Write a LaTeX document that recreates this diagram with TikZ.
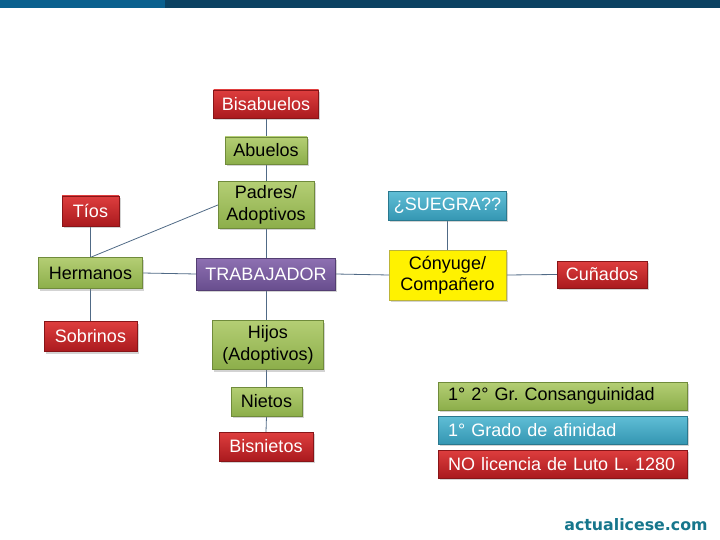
\documentclass[tikz,border=0pt]{standalone}
\usepackage{fontspec}
\setmainfont{Liberation Sans}
\newfontfamily\logofont{DejaVu Sans}
\usetikzlibrary{shadows,backgrounds}
\frenchspacing
\definecolor{barA}{RGB}{10,96,142}
\definecolor{barB}{RGB}{11,66,98}
\definecolor{redT}{RGB}{222,62,62}
\definecolor{redB}{RGB}{170,26,30}
\definecolor{grnT}{RGB}{180,206,116}
\definecolor{grnB}{RGB}{140,174,74}
\definecolor{purT}{RGB}{142,112,178}
\definecolor{purB}{RGB}{104,78,142}
\definecolor{bluT}{RGB}{96,190,214}
\definecolor{bluB}{RGB}{52,150,178}
\definecolor{linkc}{RGB}{80,106,134}
\definecolor{logoc}{RGB}{22,118,140}
\tikzset{
  box/.style={inner sep=2pt, align=center, font=\fontsize{18}{21.5}\selectfont,
    drop shadow={opacity=0.35, shadow xshift=1.5pt, shadow yshift=-2pt}},
  redbox/.style={box, top color=redT, bottom color=redB, text=white, draw=redB!80!black, line width=0.3pt},
  grnbox/.style={box, top color=grnT, bottom color=grnB, text=black, draw=grnB!80!black, line width=0.3pt},
  purbox/.style={box, top color=purT, bottom color=purB, text=white, draw=purB!80!black, line width=0.3pt},
  blubox/.style={box, top color=bluT, bottom color=bluB, text=white, draw=bluB!80!black, line width=0.3pt},
  yelbox/.style={box, fill=yellow, text=black, draw=yellow!70!black, line width=0.3pt},
  legend/.style={anchor=west, text width=229pt, inner xsep=10pt, align=left},
  link/.style={draw=linkc, line width=0.8pt}
}
\begin{document}
\begin{tikzpicture}[x=1pt,y=-1pt]
\useasboundingbox (0,0) rectangle (720,540);
\fill[barB] (0,0) rectangle (720,8);
\fill[barA] (0,0) rectangle (165,8);

\node[redbox, minimum width=105pt, minimum height=28pt] (bis) at (266,104) {Bisabuelos};
\node[grnbox, minimum width=82pt, minimum height=27pt] (abu) at (266,150.5) {Abuelos};
\node[grnbox, minimum width=96pt, minimum height=47pt] (pad) at (266,205) {Padres/\\Adoptivos};
\node[redbox, minimum width=57pt, minimum height=30pt] (tio) at (90.5,211) {Tíos};
\node[grnbox, minimum width=104pt, minimum height=31pt] (her) at (90.5,273) {Hermanos};
\node[redbox, minimum width=93pt, minimum height=30pt] (sob) at (90.5,336.5) {Sobrinos};
\node[purbox, minimum width=139pt, minimum height=32pt] (tra) at (266,274) {TRABAJADOR};
\node[blubox, minimum width=118pt, minimum height=29pt] (sue) at (447.5,206) {¿SUEGRA??};
\node[yelbox, minimum width=117pt, minimum height=50pt] (con) at (447.5,275) {Cónyuge/\\Compañero};
\node[redbox, minimum width=90pt, minimum height=27pt] (cun) at (602,274.5) {Cuñados};
\node[grnbox, minimum width=111pt, minimum height=49pt] (hij) at (268,345) {Hijos\\(Adoptivos)};
\node[grnbox, minimum width=71pt, minimum height=29pt] (nie) at (266.5,401.5) {Nietos};
\node[redbox, minimum width=94pt, minimum height=29pt] (bnt) at (266,446.5) {Bisnietos};

\node[grnbox, legend, minimum height=28pt] (lg1) at (438,396) {1° 2° Gr. Consanguinidad};
\node[blubox, legend, minimum height=28pt] (lg2) at (438,430) {1° Grado de afinidad};
\node[redbox, legend, minimum height=28pt] (lg3) at (438,464) {NO licencia de Luto L. 1280};

\node[font=\logofont\bfseries\fontsize{15.8}{18}\selectfont, text=logoc] (logo) at (636,525) {actualicese.com};

\begin{pgfonlayer}{background}
\draw[link] (bis.south) -- (abu.north);
\draw[link] (abu.south) -- (pad.north);
\draw[link] (pad.south) -- (tra.north);
\draw[link] (pad.west) -- (her.north);
\draw[link] (tio.south) -- (her.north);
\draw[link] (her.south) -- (sob.north);
\draw[link] (her.east) -- (tra.west);
\draw[link] (tra.east) -- (con.west);
\draw[link] (sue.south) -- (con.north);
\draw[link] (con.east) -- (cun.west);
\draw[link] (tra.south) -- (tra.south |- hij.north);
\draw[link] (hij.south -| nie.north) -- (nie.north);
\draw[link] (nie.south) -- (bnt.north);
\end{pgfonlayer}
\end{tikzpicture}
\end{document}
